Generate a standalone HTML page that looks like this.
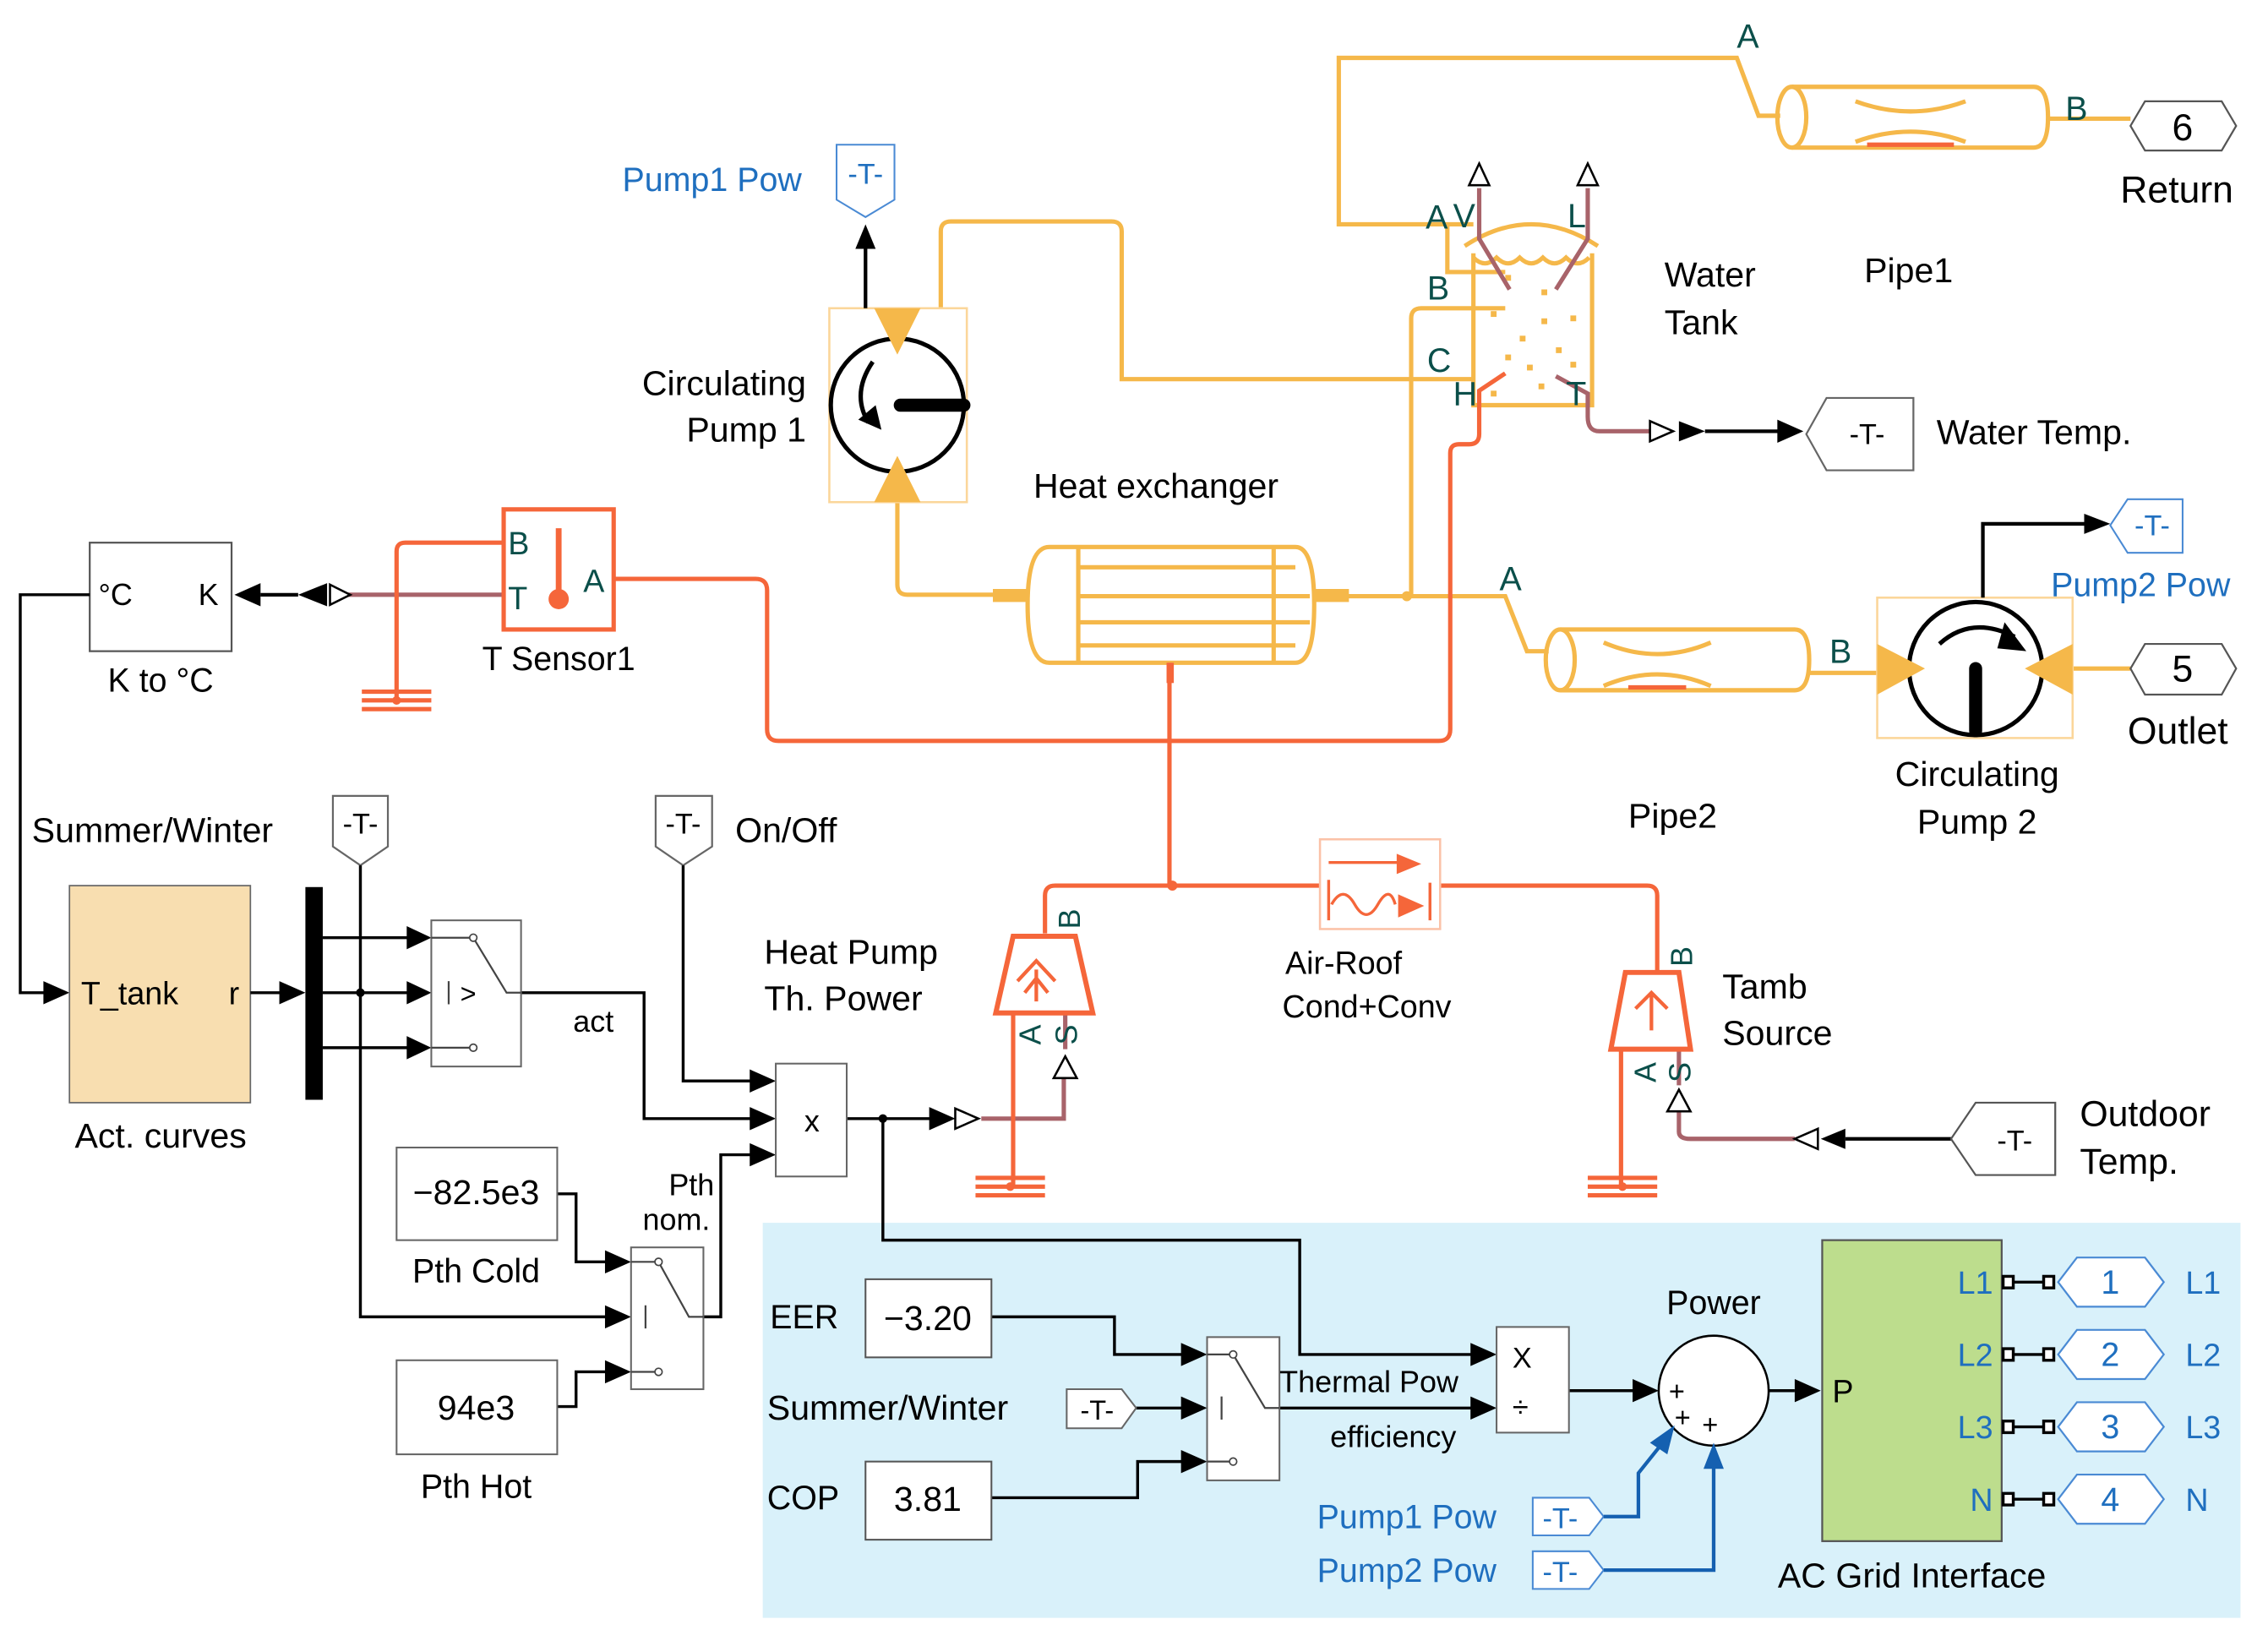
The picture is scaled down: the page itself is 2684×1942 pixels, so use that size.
<!DOCTYPE html>
<html><head><meta charset="utf-8"><style>
html,body{margin:0;padding:0;background:#fff;}
svg{display:block;}
text{font-family:"Liberation Sans",sans-serif;}
</style></head><body>
<svg width="2684" height="1942" viewBox="0 0 1567 1134" preserveAspectRatio="none" xmlns="http://www.w3.org/2000/svg">
<rect x="0" y="0" width="1567" height="1134" fill="#fff"/>
<!-- blue area -->
<rect x="527" y="845" width="1021" height="273" fill="#d9f1fa"/>

<g fill="none" stroke="#f5b84a" stroke-width="3">
<path d="M1018,155 H925 V40 H1200 L1215,80 H1230"/>
<path d="M1415,82 H1472"/>
<path d="M1238,60 H1405 Q1415,60 1415,81 Q1415,102 1405,102 H1238"/>
<ellipse cx="1238" cy="81" rx="10" ry="21"/>
<path d="M1282,70 Q1320,84 1358,70 M1282,98 Q1320,84 1358,98"/>
<path d="M1018,175 V280 H1100 V175"/>
<path d="M1012,170 Q1058,140 1104,170"/>
<path d="M1018,178 q8,8 16,0 q8,8 16,0 q8,8 16,0 q8,8 16,0 q8,8 16,0"/>
<path d="M1000,155 V188 H1040"/>
<path d="M975,412 V220 Q975,213 982,213 H1040"/>
<path d="M650,213 V160 Q650,153 657,153 H768 Q775,153 775,160 V262 H1018"/>
<path d="M620,347 V404 Q620,411 627,411 H690"/>
<path d="M725,378 H895 Q908,378 908,418 Q908,458 895,458 H725 Q710,458 710,418 Q710,378 725,378 Z"/>
<path d="M745,378 V458 M880,378 V458 M745,392 H895 M745,412 H905 M745,430 H905 M745,446 H895"/>
<path d="M930,412 H1040 L1055,450 H1070"/>
<path d="M1078,435 H1240 Q1250,435 1250,456 Q1250,477 1240,477 H1078"/>
<ellipse cx="1078" cy="456" rx="10" ry="21"/>
<path d="M1108,444 Q1145,460 1182,444 M1108,474 Q1145,458 1182,474"/>
<path d="M1250,465 H1300 M1432,462 H1472"/>
</g>
<rect x="686" y="407" width="24" height="9" fill="#f5b84a"/>
<rect x="908" y="407" width="24" height="9" fill="#f5b84a"/>
<circle cx="972" cy="412" r="3.5" fill="#f5b84a"/>
<path d="M1290,100 H1350 M1125,475 H1165" stroke="#f5663a" stroke-width="3"/>
<g fill="#f5b84a">
<rect x="1040" y="190" width="4" height="4"/><rect x="1065" y="200" width="4" height="4"/><rect x="1030" y="215" width="4" height="4"/><rect x="1065" y="220" width="4" height="4"/><rect x="1085" y="218" width="4" height="4"/><rect x="1040" y="245" width="4" height="4"/><rect x="1075" y="240" width="4" height="4"/><rect x="1055" y="252" width="4" height="4"/><rect x="1085" y="250" width="4" height="4"/><rect x="1030" y="270" width="4" height="4"/><rect x="1063" y="265" width="4" height="4"/><rect x="1050" y="232" width="4" height="4"/>
</g>
<g fill="none" stroke="#a8636a" stroke-width="3">
<path d="M1022,130 V165 L1043,200 M1097,130 V165 L1075,200"/>
<path d="M1075,260 L1097,272 V288 Q1097,298 1105,298 H1140"/>
<path d="M230,411 H348"/>
<path d="M678,773 H735 V745"/>
<path d="M1160,768 V782 Q1160,787 1168,787 H1240"/>
<path d="M736,700 V725 M1160,725 V750"/>
</g>
<g fill="none" stroke="#f5663a" stroke-width="3">
<path d="M1040,258 L1022,270 V300 Q1022,307 1015,307 H1008 Q1002,307 1002,313 V504 Q1002,512 994,512 H538 Q530,512 530,504 V408 Q530,400 522,400 H424"/>
<path d="M348,375 H280 Q274,375 274,381 V482"/>
<path d="M808,458 V612"/>
<path d="M722,645 V619 Q722,612 729,612 H912 M995,612 H1138 Q1145,612 1145,619 V672"/>
<path d="M700,700 V820 M1120,725 V820"/>
<path d="M250,478 H298 M250,484 H298 M250,490 H298"/>
<path d="M674,814 H722 M674,820 H722 M674,826 H722"/>
<path d="M1097,814 H1145 M1097,820 H1145 M1097,826 H1145"/>
</g>
<circle cx="274" cy="484" r="3" fill="#f5663a"/><circle cx="698" cy="820" r="3" fill="#f5663a"/><circle cx="1121" cy="820" r="3" fill="#f5663a"/>
<rect x="806" y="458" width="5" height="14" fill="#f5663a"/>
<circle cx="810" cy="612" r="3.5" fill="#f5663a"/>
<rect x="912" y="580" width="83" height="62" fill="#fff" stroke="#fbc2a8" stroke-width="1.5"/>
<g stroke="#f5663a" stroke-width="2" fill="none">
<path d="M918,596 H968 M918,608 V636 M988,610 V636 M920,625 q8,-14 16,0 t16,0 t12,0"/>
</g>
<path d="M965,590 L982,597 L965,604Z M966,618 L984,626 L966,634Z" fill="#f5663a"/>
<g fill="none" stroke="#f5663a" stroke-width="3.5">
<path d="M700,647 H743 L755,700 H688 Z"/>
<path d="M1123,672 H1160 L1168,725 H1113 Z"/>
<path d="M703,678 L716,664 L729,678 M716,670 V692 M708,686 L716,676 L724,686" stroke-width="2.5"/>
<path d="M1130,697 L1141,686 L1152,697 M1141,686 V712" stroke-width="2.5"/>
</g>
<path d="M728,745 L736,730 L744,745Z M1152,768 L1160,753 L1168,768Z" fill="#fff" stroke="#000" stroke-width="1.5"/>
<g fill="#0b4f4a" font-size="21">
<text transform="translate(746,642) rotate(-90)">B</text>
<text transform="translate(719,722) rotate(-90)">A</text>
<text transform="translate(744,722) rotate(-90)">S</text>
<text transform="translate(1169,668) rotate(-90)">B</text>
<text transform="translate(1144,748) rotate(-90)">A</text>
<text transform="translate(1168,748) rotate(-90)">S</text>
</g>

<rect x="573" y="213" width="95" height="134" fill="#fff" stroke="#fbd69a" stroke-width="1.5"/>
<circle cx="620" cy="280" r="46" fill="none" stroke="#000" stroke-width="3"/>
<path d="M604,213 H636 L620,245Z M604,347 H636 L620,315Z" fill="#f5b84a"/>
<path d="M622,280 H666" stroke="#000" stroke-width="9" stroke-linecap="round"/>
<path d="M603,250 Q588,272 600,292" fill="none" stroke="#000" stroke-width="3"/>
<path d="M593,290 L609,297 L605,280Z" fill="#000"/>
<path d="M598,213 V170" stroke="#000" stroke-width="2.5"/>
<path d="M591,172 L598,155 L605,172Z" fill="#000"/>
<path d="M578,100 H618 V138 L598,150 L578,138Z" fill="#fff" stroke="#4a8ad4" stroke-width="1.2"/>
<text x="598" y="127" font-size="20" fill="#1f6fbf" text-anchor="middle">-T-</text>
<text x="430" y="132" font-size="23" fill="#1f6fbf">Pump1 Pow</text>
<text x="557" y="273" font-size="24" text-anchor="end">Circulating</text>
<text x="557" y="305" font-size="24" text-anchor="end">Pump 1</text>
<text x="714" y="344" font-size="24">Heat exchanger</text>

<rect x="1297" y="413" width="135" height="97" fill="#fff" stroke="#fbd69a" stroke-width="1.5"/>
<circle cx="1365" cy="462" r="46" fill="none" stroke="#000" stroke-width="3"/>
<path d="M1297,445 V480 L1330,462Z M1432,445 V480 L1399,462Z" fill="#f5b84a"/>
<path d="M1365,462 V505" stroke="#000" stroke-width="9" stroke-linecap="round"/>
<path d="M1340,445 Q1362,425 1392,440" fill="none" stroke="#000" stroke-width="3"/>
<path d="M1385,430 L1400,450 L1380,448Z" fill="#000"/>
<path d="M1370,413 V362 H1442" fill="none" stroke="#000" stroke-width="2.5"/>
<path d="M1440,355 L1458,362 L1440,369Z" fill="#000"/>
<path d="M1470,345 H1508 V382 H1470 L1458,363Z" fill="#fff" stroke="#4a8ad4" stroke-width="1.2"/>
<text x="1487" y="370" font-size="20" fill="#1f6fbf" text-anchor="middle">-T-</text>
<text x="1417" y="412" font-size="23" fill="#1f6fbf">Pump2 Pow</text>
<text x="1366" y="543" font-size="24" text-anchor="middle">Circulating</text>
<text x="1366" y="576" font-size="24" text-anchor="middle">Pump 2</text>
<text x="1125" y="572" font-size="24">Pipe2</text>
<path d="M1472,462 L1482,445 H1535 L1545,462 L1535,480 H1482Z" fill="#fff" stroke="#555" stroke-width="1.3"/>
<text x="1508" y="471" font-size="26" text-anchor="middle">5</text>
<text x="1470" y="514" font-size="26">Outlet</text>
<path d="M1472,87 L1482,70 H1535 L1545,87 L1535,104 H1482Z" fill="#fff" stroke="#555" stroke-width="1.3"/>
<text x="1508" y="97" font-size="26" text-anchor="middle">6</text>
<text x="1465" y="140" font-size="26">Return</text>
<text x="1288" y="195" font-size="24">Pipe1</text>
<text x="1150" y="198" font-size="24">Water</text>
<text x="1150" y="231" font-size="24">Tank</text>
<g fill="#0b4f4a" font-size="23">
<text x="1200" y="33">A</text><text x="1427" y="83">B</text>
<text x="1036" y="408">A</text><text x="1264" y="458">B</text>
<text x="985" y="158">A</text><text x="1004" y="157">V</text><text x="1083" y="157">L</text>
<text x="986" y="207">B</text><text x="986" y="257">C</text>
<text x="1004" y="280">H</text><text x="1082" y="280">T</text>
</g>
<path d="M1015,128 L1022,113 L1029,128Z M1090,128 L1097,113 L1104,128Z" fill="#fff" stroke="#000" stroke-width="1.5"/>
<path d="M1140,291 L1156,298 L1140,305Z" fill="#fff" stroke="#000" stroke-width="1.5"/>
<path d="M1160,291 L1178,298 L1160,305Z" fill="#000"/>
<path d="M1178,298 H1230" stroke="#000" stroke-width="2.5"/>
<path d="M1228,290 L1246,298 L1228,306Z" fill="#000"/>
<path d="M1262,275 H1322 V325 H1262 L1248,300Z" fill="#fff" stroke="#666" stroke-width="1.3"/>
<text x="1290" y="307" font-size="20" text-anchor="middle">-T-</text>
<text x="1338" y="307" font-size="24">Water Temp.</text>

<rect x="348" y="352" width="76" height="83" fill="#fff" stroke="#f5663a" stroke-width="3"/>
<path d="M386,365 V408" stroke="#f5663a" stroke-width="4"/>
<circle cx="386" cy="414" r="7" fill="#f5663a"/>
<g fill="#0b4f4a" font-size="22"><text x="351" y="383">B</text><text x="351" y="421">T</text><text x="403" y="409">A</text></g>
<text x="386" y="463" font-size="23" text-anchor="middle">T Sensor1</text>
<path d="M228,404 L242,411 L228,418Z" fill="#fff" stroke="#000" stroke-width="1.5"/>
<path d="M226,403 L206,411 L226,419Z" fill="#000"/>
<path d="M206,411 H180" stroke="#000" stroke-width="2.5"/>
<path d="M180,403 L162,411 L180,419Z" fill="#000"/>
<rect x="62" y="375" width="98" height="75" fill="#fff" stroke="#555" stroke-width="1.3"/>
<text x="68" y="418" font-size="21">°C</text><text x="137" y="418" font-size="21">K</text>
<text x="111" y="478" font-size="23" text-anchor="middle">K to °C</text>
<path d="M62,411 H14 V686 H36" fill="none" stroke="#000" stroke-width="2"/>

<path d="M30,678 L48,686 L30,694Z" fill="#000"/>
<rect x="48" y="612" width="125" height="150" fill="#f8deb0" stroke="#666" stroke-width="1"/>
<text x="56" y="694" font-size="22">T_tank</text><text x="158" y="694" font-size="22">r</text>
<text x="111" y="793" font-size="24" text-anchor="middle">Act. curves</text>
<path d="M173,686 H195" stroke="#000" stroke-width="2"/>
<path d="M193,678 L211,686 L193,694Z" fill="#000"/>
<rect x="211" y="613" width="12" height="147" fill="#000"/>
<text x="22" y="582" font-size="24">Summer/Winter</text>
<path d="M230,550 H268 V585 L249,598 L230,585Z" fill="#fff" stroke="#666" stroke-width="1.3"/>
<text x="249" y="576" font-size="20" text-anchor="middle">-T-</text>
<path d="M453,550 H492 V585 L472,598 L453,585Z" fill="#fff" stroke="#666" stroke-width="1.3"/>
<text x="472" y="576" font-size="20" text-anchor="middle">-T-</text>
<text x="508" y="582" font-size="24">On/Off</text>
<g fill="none" stroke="#000" stroke-width="2">
<path d="M223,648 H283 M223,686 H283 M223,724 H283"/>
<path d="M249,598 V910 H420"/>
<path d="M360,686 H445 V773 H520"/>
<path d="M472,598 V747 H520"/>
<path d="M385,825 H398 V872 H420"/>
<path d="M385,972 H398 V948 H420"/>
<path d="M486,910 H498 V798 H520"/>
<path d="M585,773 H648"/>
<path d="M610,773 V857 H898 V936 H1018"/>
<path d="M685,910 H770 V936 H818"/>
<path d="M785,973 H818"/>
<path d="M685,1035 H786 V1010 H818"/>
<path d="M884,973 H1018"/>
<path d="M1084,961 H1130"/>
<path d="M1222,961 H1240"/>
</g>
<circle cx="249" cy="686" r="3" fill="#000"/><circle cx="610" cy="773" r="3" fill="#000"/>
<g fill="#000">
<path d="M281,640 L298,648 L281,656Z"/><path d="M281,678 L298,686 L281,694Z"/><path d="M281,716 L298,724 L281,732Z"/>
<path d="M518,739 L536,747 L518,755Z"/><path d="M518,765 L536,773 L518,781Z"/><path d="M518,790 L536,798 L518,806Z"/>
<path d="M418,864 L436,872 L418,880Z"/><path d="M418,902 L436,910 L418,918Z"/><path d="M418,940 L436,948 L418,956Z"/>
<path d="M642,765 L660,773 L642,781Z"/>
<path d="M816,928 L834,936 L816,944Z"/><path d="M816,965 L834,973 L816,981Z"/><path d="M816,1002 L834,1010 L816,1018Z"/>
<path d="M1016,928 L1034,936 L1016,944Z"/><path d="M1016,965 L1034,973 L1016,981Z"/>
<path d="M1128,953 L1146,961 L1128,969Z"/><path d="M1240,953 L1258,961 L1240,969Z"/>
</g>
<path d="M660,766 L676,773 L660,780Z" fill="#fff" stroke="#000" stroke-width="1.5"/>
<path d="M1256,780 L1240,787 L1256,794Z" fill="#fff" stroke="#000" stroke-width="1.5"/>
<path d="M1275,780 L1258,787 L1275,794Z" fill="#000"/>
<path d="M1275,787 H1348" stroke="#000" stroke-width="2.5"/>
<path d="M1365,762 H1420 V812 H1365 L1348,787Z" fill="#fff" stroke="#555" stroke-width="1.3"/>
<text x="1392" y="795" font-size="20" text-anchor="middle">-T-</text>
<text x="1437" y="778" font-size="25">Outdoor</text><text x="1437" y="811" font-size="25">Temp.</text>
<text x="528" y="666" font-size="24">Heat Pump</text><text x="528" y="698" font-size="24">Th. Power</text>
<text x="888" y="673" font-size="22">Air-Roof</text><text x="886" y="703" font-size="22">Cond+Conv</text>
<text x="1190" y="690" font-size="24">Tamb</text><text x="1190" y="722" font-size="24">Source</text>
<g fill="#fff" stroke="#666" stroke-width="1.2">
<rect x="298" y="636" width="62" height="101"/>
<rect x="436" y="862" width="50" height="98"/>
<rect x="834" y="924" width="50" height="99"/>
<rect x="536" y="735" width="49" height="78"/>
<rect x="1034" y="917" width="50" height="73"/>
</g>
<g fill="none" stroke="#444" stroke-width="1.3">
<path d="M298,648 H327 L350,686 H360 M298,724 H327 M310,678 V694"/>
<path d="M436,872 H455 L476,910 H486 M436,948 H455 M446,902 V918"/>
<path d="M834,936 H852 L874,973 H884 M834,1010 H852 M844,965 V981"/>
</g>
<circle cx="327" cy="648" r="2.5" fill="#fff" stroke="#444"/><circle cx="327" cy="724" r="2.5" fill="#fff" stroke="#444"/>
<circle cx="455" cy="872" r="2.5" fill="#fff" stroke="#444"/><circle cx="455" cy="948" r="2.5" fill="#fff" stroke="#444"/>
<circle cx="852" cy="936" r="2.5" fill="#fff" stroke="#444"/><circle cx="852" cy="1010" r="2.5" fill="#fff" stroke="#444"/>
<text x="318" y="693" font-size="19">&gt;</text>
<text x="561" y="782" font-size="21" text-anchor="middle">x</text>
<text x="396" y="713" font-size="21">act</text>
<text x="462" y="826" font-size="21">Pth</text><text x="444" y="850" font-size="21">nom.</text>
<rect x="274" y="793" width="111" height="64" fill="#fff" stroke="#666" stroke-width="1.2"/>
<text x="329" y="832" font-size="24" text-anchor="middle">−82.5e3</text>
<text x="329" y="886" font-size="23" text-anchor="middle">Pth Cold</text>
<rect x="274" y="940" width="111" height="65" fill="#fff" stroke="#666" stroke-width="1.2"/>
<text x="329" y="981" font-size="24" text-anchor="middle">94e3</text>
<text x="329" y="1035" font-size="23" text-anchor="middle">Pth Hot</text>
<text x="532" y="918" font-size="23">EER</text>
<rect x="598" y="884" width="87" height="54" fill="#fff" stroke="#555" stroke-width="1.2"/>
<text x="641" y="919" font-size="24" text-anchor="middle">−3.20</text>
<text x="530" y="981" font-size="24">Summer/Winter</text>
<path d="M737,960 H775 L785,973 L775,987 H737Z" fill="#fff" stroke="#666" stroke-width="1.2"/>
<text x="758" y="981" font-size="19" text-anchor="middle">-T-</text>
<text x="530" y="1043" font-size="23">COP</text>
<rect x="598" y="1010" width="87" height="54" fill="#fff" stroke="#555" stroke-width="1.2"/>
<text x="641" y="1044" font-size="24" text-anchor="middle">3.81</text>
<text x="884" y="962" font-size="21">Thermal Pow</text>
<text x="919" y="1000" font-size="21">efficiency</text>
<text x="1045" y="945" font-size="20">X</text><text x="1045" y="979" font-size="20">÷</text>
<circle cx="1184" cy="961" r="38" fill="#fff" stroke="#000" stroke-width="1.5"/>
<text x="1153" y="968" font-size="19">+</text><text x="1157" y="986" font-size="19">+</text><text x="1176" y="991" font-size="19">+</text>
<text x="1184" y="908" font-size="23" text-anchor="middle">Power</text>
<text x="910" y="1056" font-size="23" fill="#1f6fbf">Pump1 Pow</text>
<text x="910" y="1093" font-size="23" fill="#1f6fbf">Pump2 Pow</text>
<path d="M1059,1035 H1098 L1108,1048 L1098,1061 H1059Z M1059,1072 H1098 L1108,1085 L1098,1098 H1059Z" fill="#fff" stroke="#4a8ad4" stroke-width="1.2"/>
<text x="1078" y="1056" font-size="20" fill="#1f6fbf" text-anchor="middle">-T-</text>
<text x="1078" y="1093" font-size="20" fill="#1f6fbf" text-anchor="middle">-T-</text>
<path d="M1108,1048 H1132 V1018 L1148,998 M1108,1085 H1184 V1012" fill="none" stroke="#1560b0" stroke-width="2.5"/>
<path d="M1140,997 L1157,985 L1152,1005Z M1177,1015 L1184,997 L1191,1015Z" fill="#1560b0"/>
<rect x="1259" y="857" width="124" height="208" fill="#bddd8d" stroke="#555" stroke-width="1.3"/>
<text x="1266" y="969" font-size="22">P</text>
<g font-size="22" fill="#1f6fbf">
<text x="1377" y="894" text-anchor="end">L1</text><text x="1377" y="944" text-anchor="end">L2</text>
<text x="1377" y="994" text-anchor="end">L3</text><text x="1377" y="1044" text-anchor="end">N</text>
<text x="1510" y="894">L1</text><text x="1510" y="944">L2</text><text x="1510" y="994">L3</text><text x="1510" y="1044">N</text>
</g>
<g stroke="#000" stroke-width="2" fill="#fff">
<path d="M1388,886 H1416 M1388,936 H1416 M1388,986 H1416 M1388,1036 H1416"/>
<rect x="1384" y="882" width="7" height="8"/><rect x="1412" y="882" width="7" height="8"/>
<rect x="1384" y="932" width="7" height="8"/><rect x="1412" y="932" width="7" height="8"/>
<rect x="1384" y="982" width="7" height="8"/><rect x="1412" y="982" width="7" height="8"/>
<rect x="1384" y="1032" width="7" height="8"/><rect x="1412" y="1032" width="7" height="8"/>
</g>
<g fill="#fff" stroke="#4a8ad4" stroke-width="1.3">
<path d="M1422,886 L1435,869 H1482 L1495,886 L1482,903 H1435Z"/>
<path d="M1422,936 L1435,919 H1482 L1495,936 L1482,953 H1435Z"/>
<path d="M1422,986 L1435,969 H1482 L1495,986 L1482,1003 H1435Z"/>
<path d="M1422,1036 L1435,1019 H1482 L1495,1036 L1482,1053 H1435Z"/>
</g>
<g font-size="23" fill="#1f6fbf" text-anchor="middle">
<text x="1458" y="894">1</text><text x="1458" y="944">2</text><text x="1458" y="994">3</text><text x="1458" y="1044">4</text>
</g>
<text x="1321" y="1097" font-size="24" text-anchor="middle">AC Grid Interface</text>
</svg>
</body></html>
